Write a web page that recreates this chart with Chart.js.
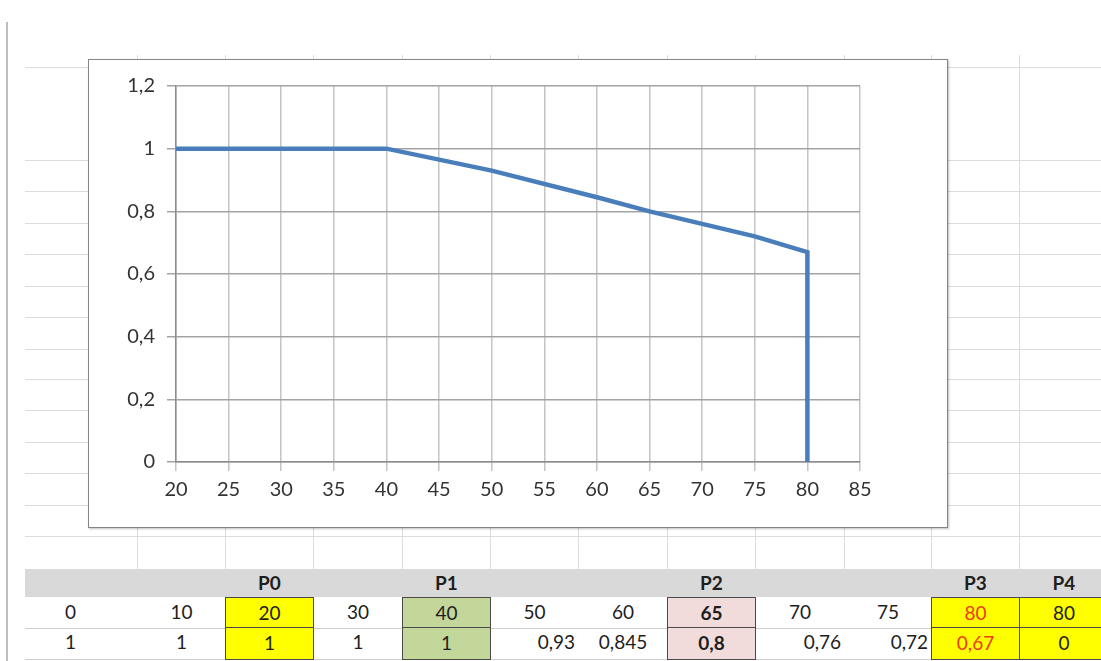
<!DOCTYPE html>
<html>
<head>
<meta charset="utf-8">
<script src="https://cdn.jsdelivr.net/npm/chart.js@4.4.0/dist/chart.umd.min.js"></script>
<style>
  body { margin:0; width:1101px; height:661px; background:#fff; overflow:hidden; position:relative; font-family:Lato, "Open Sans", sans-serif; }
  .ln { position:absolute; background:#dcdcdc; }
  .cell { position:absolute; box-sizing:border-box; font-size:19px; color:#1e1e1e; line-height:30px; padding:0 4px; white-space:nowrap; }
  #frame { position:absolute; left:88px; top:59px; width:860px; height:469px; box-sizing:border-box; background:#fff; border:1.5px solid #858585; box-shadow:1px 1px 2px rgba(0,0,0,0.25); }
  #cv { position:absolute; left:88px; top:59px; width:860px; height:469px; }
</style>
</head>
<body>
<div id="bg"></div>
<div id="frame"></div>
<div id="cv"><canvas id="c"></canvas></div>
<div id="tbl"></div>
<script>
// data from the sheet
var xs = [0, 10, 20, 30, 40, 50, 60, 65, 70, 75, 80, 80];
var ys = [1, 1, 1, 1, 1, 0.93, 0.845, 0.8, 0.76, 0.72, 0.67, 0];
var heads = ['', '', 'P0', '', 'P1', '', '', 'P2', '', '', 'P3', 'P4'];
var yTicks = [0, 0.2, 0.4, 0.6, 0.8, 1, 1.2];

function fmt(v) { return String(v).replace('.', ','); }

// spreadsheet background lines
var bg = document.getElementById('bg');
function line(x, y, w, h, col) {
  var d = document.createElement('div');
  d.className = 'ln';
  d.style.left = x + 'px'; d.style.top = y + 'px';
  d.style.width = w + 'px'; d.style.height = h + 'px';
  if (col) d.style.background = col;
  bg.appendChild(d);
}
var rowLines = [67, 160, 191, 223, 254, 286, 317, 349, 379, 410, 442, 473, 505, 536];
for (var i = 0; i < rowLines.length; i++) line(25, rowLines[i], 1076, 1);
var colEdges = [3, 137, 225, 313, 402, 490, 578, 667, 755, 844, 931, 1019, 1108];
for (var i = 1; i < colEdges.length - 1; i++) line(colEdges[i], 55, 1, 514);
line(6, 22, 2, 639, '#bdbdbd');

// table under the chart
var tbl = document.getElementById('tbl');
line(25, 569, 1076, 28, '#d9d9d9');
line(25, 628, 1076, 1, '#d0d0d0');
line(25, 659, 1076, 1, '#d0d0d0');
var fills = {2:'#ffff00', 4:'#c4d79b', 7:'#f2dcdb', 10:'#ffff00', 11:'#ffff00'};
var rightAl = {5:1, 8:1, 9:1};
function cell(i, top, h, txt, opts) {
  var d = document.createElement('div');
  d.className = 'cell';
  d.style.left = colEdges[i] + 'px';
  d.style.top = top + 'px';
  d.style.width = (colEdges[i + 1] - colEdges[i] + 1) + 'px';
  d.style.height = h + 'px';
  d.style.textAlign = opts.align || 'center';
  if (opts.fill) { d.style.background = opts.fill; d.style.border = '1.5px solid #4a4a4a'; d.style.lineHeight = (h - 3) + 'px'; }
  if (opts.bold) d.style.fontWeight = 'bold';
  if (opts.red) d.style.color = '#f03a17';
  d.textContent = txt;
  tbl.appendChild(d);
}
for (var i = 0; i < heads.length; i++) {
  cell(i, 568, 30, heads[i], {bold:true});
  cell(i, 597, 32, String(xs[i]), {fill:fills[i], bold:i == 7, red:i == 10});
  cell(i, 627, 33, fmt(ys[i]), {fill:fills[i], bold:i == 7, red:i == 10, align:rightAl[i] ? 'right' : 'center'});
}

var pts = [];
for (var i = 0; i < xs.length; i++) pts.push({x: xs[i], y: ys[i]});

var ctx = document.getElementById('c').getContext('2d');
new Chart(ctx, {
  type: 'line',
  data: {
    datasets: [{
      data: pts,
      borderColor: '#4a7ebb',
      borderWidth: 4.5,
      pointRadius: 0,
      tension: 0,
      fill: false
    }]
  },
  options: {
    responsive: true,
    maintainAspectRatio: false,
    animation: false,
    layout: { padding: { top: 27, right: 88 } },
    plugins: { legend: { display: false }, tooltip: { enabled: false } },
    scales: {
      x: {
        type: 'linear', min: 20, max: 85,
        ticks: { stepSize: 5, color: '#333', font: { family: 'Lato', size: 20 }, padding: 7, maxRotation: 0 },
        grid: { color: '#c4c4c4', tickLength: 9, lineWidth: 1.5 },
        border: { color: '#8c8c8c', width: 1.5 },
        afterFit: function(a) { a.height = 66; }
      },
      y: {
        min: 0, max: 1.2,
        afterBuildTicks: function(a) { a.ticks = yTicks.map(function(v) { return {value: v}; }); },
        ticks: { color: '#333', font: { family: 'Lato', size: 20 }, padding: 12,
                 callback: function(v) { return fmt(+v.toFixed(2)); } },
        grid: { color: '#a3a3a3', tickLength: 9, lineWidth: 1.5 },
        border: { color: '#8c8c8c', width: 1.5 },
        afterFit: function(a) { a.width = 88; }
      }
    }
  }
});
</script>
</body>
</html>
